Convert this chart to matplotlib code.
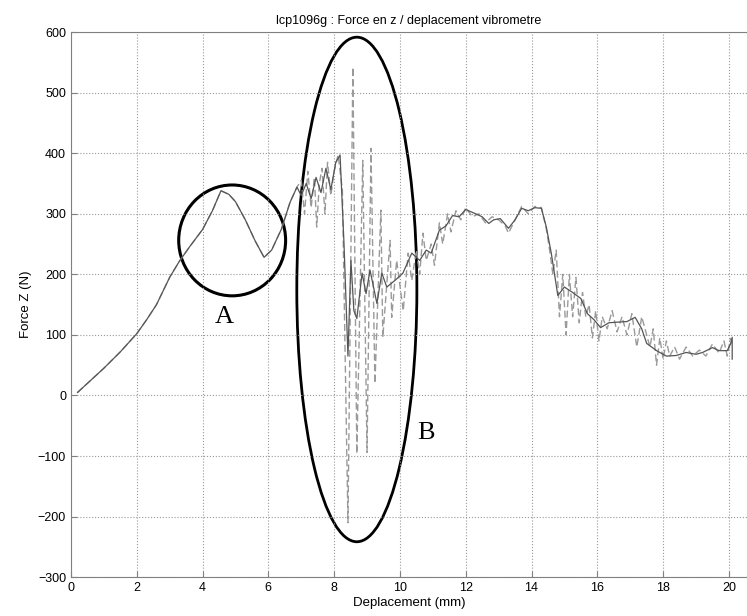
import matplotlib
matplotlib.use("Agg")
import matplotlib.pyplot as plt
from matplotlib.patches import Ellipse

plt.rcParams['font.family'] = ['Liberation Sans', 'DejaVu Sans']

# solid curve (force)
xs = [0.2, 0.6, 1.0, 1.5, 2.0, 2.3, 2.6, 3.0, 3.3, 3.6,
      4.0, 4.3, 4.56, 4.8, 5.0, 5.3, 5.6, 5.87, 6.1, 6.4,
      6.66, 6.87, 7.0, 7.15, 7.3, 7.45, 7.6, 7.75, 7.9, 8.05,
      8.18, 8.3, 8.42, 8.51, 8.6, 8.69, 8.85, 8.97, 9.09, 9.3,
      9.45, 9.6, 9.85, 10.09, 10.36, 10.6, 10.8, 10.95, 11.2, 11.4,
      11.6, 11.8, 12.0, 12.3, 12.5, 12.7, 12.85, 13.05, 13.3, 13.5,
      13.7, 13.9, 14.1, 14.3, 14.45, 14.6, 14.8, 15.0, 15.25, 15.5,
      15.7, 15.9, 16.1, 16.35, 16.6, 16.9, 17.15, 17.35, 17.5, 17.8,
      18.1, 18.4, 18.7, 19.0, 19.2, 19.5, 19.7, 19.95, 20.05, 20.1,
      20.1]
ys = [5, 25, 45, 72, 102, 125, 150, 195, 222, 245,
      274, 305, 338, 332, 320, 290, 255, 228, 240, 275,
      319, 344, 330, 350, 325, 360, 335, 375, 340, 385,
      397, 250, 65, 223, 140, 127, 202, 168, 207, 152,
      202, 179, 190, 202, 235, 223, 240, 235, 273, 280,
      297, 295, 307, 300, 295, 284, 290, 292, 276, 290,
      309, 305, 310, 309, 278, 235, 165, 179, 170, 160,
      135, 125, 112, 120, 121, 122, 129, 110, 86, 74,
      65, 66, 71, 68, 71, 79, 74, 74, 85, 96,
      60]

# dashed curve (vibrometre)
xd = xs[:22] + [
      7.0, 7.1, 7.2, 7.3, 7.4, 7.47, 7.55, 7.63, 7.72, 7.8,
      7.9, 8.0, 8.12, 8.25, 8.42, 8.57, 8.69, 8.87, 9.0, 9.12,
      9.24, 9.42, 9.48, 9.7, 9.75, 9.9, 10.1, 10.25, 10.36, 10.5,
      10.6, 10.7, 10.8, 10.95, 11.05, 11.2, 11.3, 11.45, 11.55, 11.7,
      11.85, 12.0, 12.2, 12.4, 12.6, 12.8, 13.0, 13.2, 13.3, 13.5,
      13.7, 13.9, 14.1, 14.3, 14.45, 14.55, 14.65, 14.75, 14.85, 14.95,
      15.05, 15.15, 15.25, 15.35, 15.45, 15.55, 15.65, 15.75, 15.85, 15.95,
      16.05, 16.15, 16.3, 16.45, 16.6, 16.75, 16.9, 17.05, 17.2, 17.35,
      17.5, 17.6, 17.7, 17.8, 17.9, 18.0, 18.1, 18.2, 18.35, 18.5,
      18.7, 18.9, 19.1, 19.3, 19.5, 19.7, 19.85, 19.95, 20.05]
yd = ys[:22] + [
      355, 300, 370, 310, 360, 278, 350, 375, 300, 385,
      330, 370, 397, 340, -210, 542, -96, 388, -94, 408,
      20, 306, 96, 256, 129, 223, 140, 235, 190, 240,
      200, 268, 223, 250, 215, 285, 250, 300, 270, 305,
      290, 310, 295, 300, 285, 295, 290, 280, 268, 290,
      312, 300, 312, 310, 275, 240, 200, 240, 130, 200,
      100, 200, 130, 195, 120, 170, 130, 150, 95, 140,
      90, 130, 110, 140, 105, 130, 100, 135, 80, 130,
      100, 80, 110, 50, 95, 60, 90, 65, 80, 60,
      80, 65, 75, 65, 85, 70, 90, 65, 95]

xticks = [0, 2, 4, 6, 8, 10, 12, 14, 16, 18, 20]
yticks = [-300, -200, -100, 0, 100, 200, 300, 400, 500, 600]

fig = plt.figure(figsize=(7.47, 6.16), dpi=100)
ax = fig.add_axes([0.095, 0.063, 0.905, 0.885])

ax.plot(xd, yd, color='#9a9a9a', lw=1.0, ls=(0, (5, 2.5)))
ax.plot(xs, ys, color='#555555', lw=0.9)

ax.add_patch(Ellipse((4.9, 256), 3.25, 183, fill=False, lw=2.2, color='black'))
ax.add_patch(Ellipse((8.69, 175), 3.65, 833, fill=False, lw=2.0, color='black'))
ax.text(4.65, 130, 'A', family='Liberation Serif', fontsize=19, ha='center', va='center')
ax.text(10.78, -62, 'B', family='Liberation Serif', fontsize=19, ha='center', va='center')

ax.set_xlim(0, 20.55)
ax.set_ylim(-300, 600)
ax.set_xticks(xticks)
ax.set_yticks(yticks)
ax.grid(True, ls=':', color='#999999', lw=0.8)
ax.tick_params(direction='in', length=4, labelsize=9, color='#808080')
for s in ['left', 'bottom', 'top']:
    ax.spines[s].set_color('#808080')
ax.spines['right'].set_visible(False)

ax.set_title('lcp1096g : Force en z / deplacement vibrometre', fontsize=9)
ax.set_xlabel('Deplacement (mm)', fontsize=9.5, labelpad=2)
ax.set_ylabel('Force Z (N)', fontsize=9.5)

fig.savefig('out.png', dpi=100)
